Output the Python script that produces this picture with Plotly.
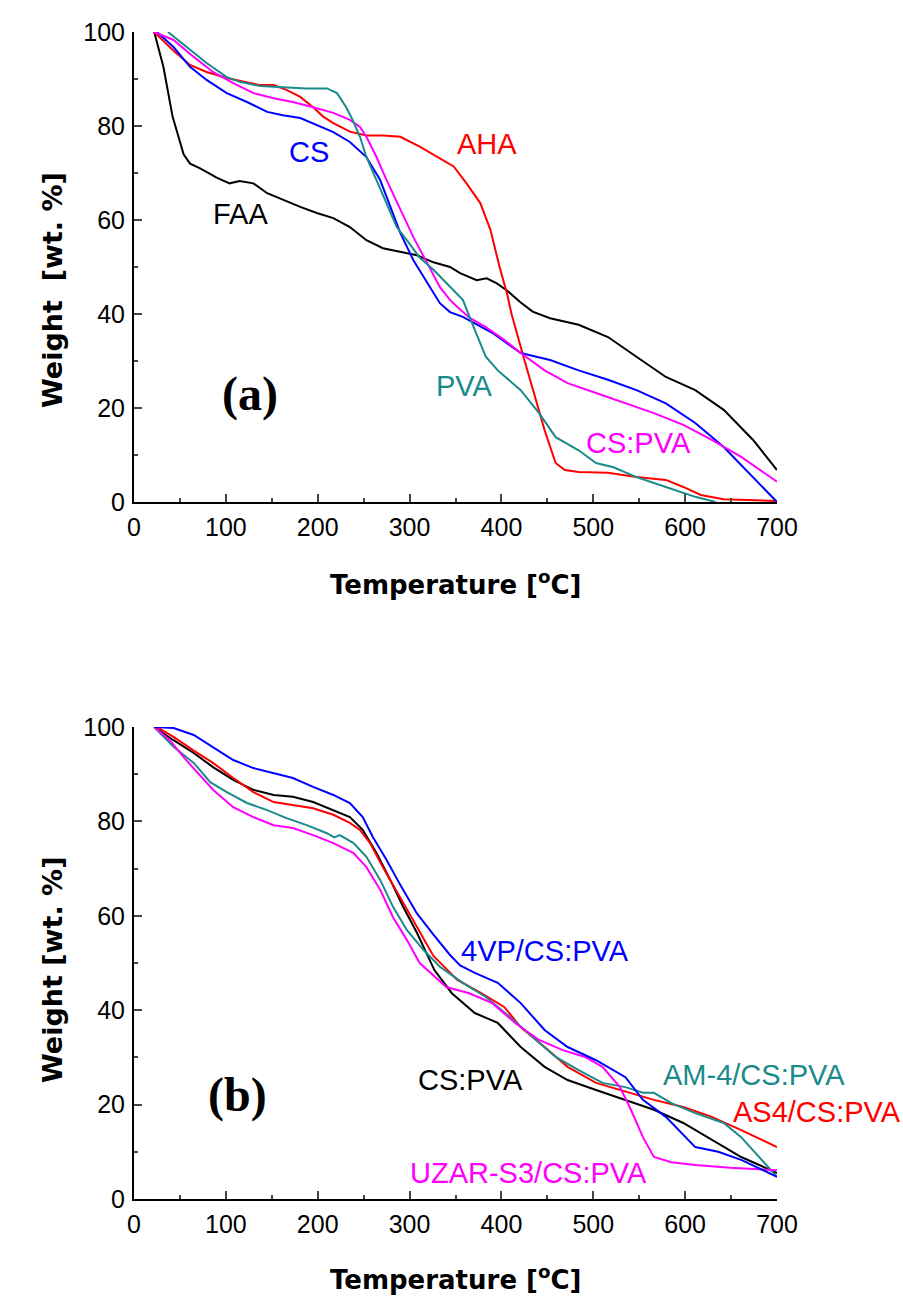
import plotly.graph_objects as go

# ---- panel (a): raw components ----
faa_t = [22, 32, 42, 47, 54, 61, 72, 90, 104, 115, 130, 145, 162, 181, 199, 217, 235, 253, 271, 290,
         308, 326, 344, 355, 373, 384, 395, 406, 420, 434, 453, 484, 516, 547, 579, 611, 642, 674, 700]
faa_w = [100, 92.6, 82, 78.5, 74, 72, 71, 69, 67.8, 68.3, 67.8, 65.7, 64.3, 62.8, 61.5, 60.4, 58.5, 55.7, 54, 53.2,
         52.5, 51, 50, 48.7, 47.2, 47.6, 46.5, 45, 42.6, 40.5, 39.1, 37.7, 35.1, 30.9, 26.6, 23.8, 19.6, 13.2, 6.8]

aha_t = [22, 43, 61, 79, 101, 119, 137, 152, 166, 181, 195, 206, 217, 235, 253, 271, 290, 311, 329, 348,
         362, 377, 388, 398, 406, 411, 425, 447, 459, 469, 484, 516, 547, 579, 598, 617, 642, 674, 700]
aha_w = [100, 96, 93, 91.5, 90.2, 89.4, 88.7, 88.7, 87.7, 86.2, 84, 82, 80.6, 78.8, 78, 78, 77.7, 75.6, 73.5, 71.4,
         67.8, 63.6, 57.9, 50, 44.4, 40, 30.2, 15.3, 8.3, 6.8, 6.4, 6.2, 5.3, 4.7, 3.2, 1.5, 0.6, 0.4, 0.2]

pva_t = [37, 57, 79, 101, 115, 137, 162, 188, 210, 221, 231, 238, 246, 253, 264, 275, 286, 297, 311, 326,
         344, 358, 371, 383, 396, 421, 441, 459, 484, 503, 522, 547, 579, 611, 633]
pva_w = [100, 96.8, 93.4, 90.4, 89.4, 88.5, 88.3, 88, 88, 87, 84, 81.3, 77.7, 73.4, 68.5, 63.6, 58.5, 55.7, 52, 49.4,
         45.7, 43, 36.6, 30.9, 28, 23.8, 18.9, 13.8, 11, 8.3, 7.4, 5.3, 3.2, 1.1, 0]

cs_t = [25, 43, 61, 79, 101, 123, 145, 162, 181, 199, 217, 235, 253, 268, 279, 290, 304, 319, 333, 344,
        358, 390, 421, 453, 484, 516, 547, 579, 611, 642, 674, 700]
cs_w = [100, 96.8, 92.6, 89.8, 87, 85.1, 83, 82.3, 81.7, 80.2, 78.7, 76.6, 73.4, 68.5, 62.8, 57.2, 51.5, 46.6, 42.3, 40.4,
        39.4, 36, 31.7, 30.2, 28, 26, 23.8, 21, 16.8, 11.7, 5.3, 0]

cspva_t = [22, 43, 65, 86, 108, 130, 152, 173, 195, 217, 235, 246, 253, 264, 275, 290, 304, 319, 333, 344,
           352, 366, 383, 403, 421, 447, 472, 503, 535, 566, 598, 629, 661, 700]
cspva_w = [100, 98.3, 94.7, 91.5, 89.1, 87, 85.9, 85.1, 84, 82.8, 81.3, 79.8, 77.7, 73.4, 68.5, 62.1, 56.4, 50.9, 45.7, 43,
           41.5, 39.1, 37.2, 34.5, 31.7, 28, 25.3, 23.2, 21, 18.9, 16.4, 13.2, 9.6, 4.3]

# ---- panel (b): modified membranes ----
vp_t = [22, 43, 65, 86, 108, 130, 152, 173, 195, 217, 235, 249, 260, 275, 290, 308, 326, 344, 355, 371,
        396, 421, 447, 472, 503, 535, 554, 579, 611, 636, 661, 700]
vp_w = [100, 99.8, 98.3, 95.8, 93, 91.3, 90.3, 89.2, 87.3, 85.6, 83.9, 80.9, 76.7, 71.8, 66.5, 60.5, 56, 51.7, 49.5, 47.9,
        45.8, 41.5, 35.8, 32.2, 29.4, 25.8, 21, 17.4, 11, 10, 8.3, 4.7]

blend_t = [22, 43, 65, 86, 108, 130, 152, 173, 195, 217, 235, 249, 264, 279, 293, 308, 322, 327, 346, 371,
           396, 421, 447, 472, 503, 535, 566, 598, 629, 661, 700]
blend_w = [100, 97.2, 94.5, 91.5, 88.8, 86.7, 85.6, 85.2, 84.1, 82.4, 80.9, 78.2, 73.3, 67.6, 61.9, 56.4, 50.6, 48.5, 43.6, 39.4,
           37.3, 32.2, 28, 25.2, 23.1, 21, 18.9, 16.1, 12.5, 8.9, 5.5]

as4_t = [25, 43, 65, 86, 108, 130, 152, 173, 195, 217, 235, 246, 257, 271, 290, 308, 326, 352, 378, 403,
         421, 447, 472, 503, 535, 566, 598, 629, 661, 700]
as4_w = [100, 97.9, 95, 92.4, 89.2, 86.2, 84.1, 83.5, 82.8, 81.4, 79.7, 78.2, 75.4, 70.3, 63.7, 57.6, 51.5, 46.4, 43.6, 40.7,
         36.4, 32.2, 28, 24.6, 22.7, 21, 19.5, 17.4, 14.6, 11]

am4_t = [22, 43, 65, 83, 101, 123, 145, 166, 188, 210, 218, 224, 239, 253, 268, 282, 297, 315, 333, 358,
         383, 409, 434, 459, 484, 510, 535, 554, 566, 585, 611, 642, 661, 680, 700]
am4_w = [100, 95.8, 92.4, 88.3, 86.2, 83.9, 82.4, 80.7, 79.2, 77.5, 76.6, 77.1, 75.4, 72.5, 67.6, 61.9, 57, 52.8, 49.2, 45.8,
         42.8, 38.6, 34.3, 30.1, 27.3, 24.6, 23.7, 22.5, 22.5, 20.3, 18.2, 16.1, 13.1, 8.9, 4.7]

uzar_t = [22, 39, 54, 69, 86, 108, 130, 152, 173, 195, 217, 239, 253, 268, 282, 297, 311, 340, 365, 390,
          415, 441, 466, 491, 510, 529, 541, 554, 566, 585, 611, 649, 700]
uzar_w = [100, 97.2, 93.6, 90.3, 86.7, 83, 80.9, 79.2, 78.6, 77.1, 75.4, 73.3, 70.3, 65.5, 59.7, 54.9, 50, 44.9, 43.6, 41.5,
          37.3, 33.7, 31.6, 30.1, 28, 23.7, 18.9, 13.1, 8.9, 7.8, 7.2, 6.6, 6.1]

BLACK, RED, BLUE, MAG, TEAL = "#000000", "#ff0000", "#0000ff", "#ff00ff", "#1a8a8a"

panel_a = [(faa_t, faa_w, BLACK), (aha_t, aha_w, RED), (cs_t, cs_w, BLUE),
           (cspva_t, cspva_w, MAG), (pva_t, pva_w, TEAL)]
panel_b = [(blend_t, blend_w, BLACK), (as4_t, as4_w, RED), (am4_t, am4_w, TEAL),
           (uzar_t, uzar_w, MAG), (vp_t, vp_w, BLUE)]

fig = go.Figure()
for t, w, c in panel_a:
    fig.add_trace(go.Scatter(x=t, y=w, mode="lines", line=dict(color=c, width=2),
                             xaxis="x", yaxis="y", showlegend=False))
for t, w, c in panel_b:
    fig.add_trace(go.Scatter(x=t, y=w, mode="lines", line=dict(color=c, width=2),
                             xaxis="x2", yaxis="y2", showlegend=False))

tick_font = dict(family="Liberation Sans, Arial", size=25, color="black")
xax = dict(range=[0, 700], tick0=0, dtick=100, ticks="inside", ticklen=8, tickwidth=2,
           showline=True, linecolor="black", linewidth=2, showgrid=False, zeroline=False,
           automargin=False, ticklabelstandoff=2,
           tickfont=tick_font, minor=dict(ticks="inside", ticklen=4, tickwidth=2, dtick=50, tick0=0))
yax = dict(range=[0, 100], tick0=0, dtick=20, ticks="inside", ticklen=8, tickwidth=2,
           showline=True, linecolor="black", linewidth=2, showgrid=False, zeroline=False,
           automargin=False, ticklabelstandoff=2,
           tickfont=tick_font, minor=dict(ticks="inside", ticklen=4, tickwidth=2, dtick=10, tick0=0))

X0, X1 = 134 / 903, 777 / 903
fig.update_layout(
    width=903, height=1297,
    margin=dict(l=0, r=0, t=0, b=0),
    plot_bgcolor="white", paper_bgcolor="white",
    xaxis=dict(xax, domain=[X0, X1], anchor="y"),
    yaxis=dict(yax, domain=[1 - 502 / 1297, 1 - 32 / 1297], anchor="x"),
    xaxis2=dict(xax, domain=[X0, X1], anchor="y2"),
    yaxis2=dict(yax, domain=[1 - 1199 / 1297, 1 - 727 / 1297], anchor="x2"),
)

lab_font = "Liberation Sans, Arial"
LAB = 29
labels_a = [("CS", 190, 74.5, BLUE), ("FAA", 116, 61.3, BLACK), ("AHA", 384, 76.2, RED),
            ("PVA", 360, 24.7, TEAL), ("CS:PVA", 549, 12.6, MAG)]
labels_b = [("4VP/CS:PVA", 447, 52.5, BLUE), ("CS:PVA", 366, 25.2, BLACK),
            ("AM-4/CS:PVA", 675, 26.3, TEAL), ("UZAR-S3/CS:PVA", 430, 5.5, MAG)]
for txt, x, y, c in labels_a:
    fig.add_annotation(x=x, y=y, xref="x", yref="y", text=txt, showarrow=False,
                       font=dict(family=lab_font, size=LAB, color=c))
for txt, x, y, c in labels_b:
    fig.add_annotation(x=x, y=y, xref="x2", yref="y2", text=txt, showarrow=False,
                       font=dict(family=lab_font, size=LAB, color=c))
# this one runs past the right end of the axis, so anchor it to the page
fig.add_annotation(x=817 / 903, y=18.4, xref="paper", yref="y2", text="AS4/CS:PVA", showarrow=False,
                   xanchor="center", yanchor="middle",
                   font=dict(family=lab_font, size=LAB, color=RED))

panel_font = dict(family="Liberation Serif, Times New Roman", size=48, color="black")
fig.add_annotation(x=126, y=23, xref="x", yref="y", text="<b>(a)</b>", showarrow=False, font=panel_font)
fig.add_annotation(x=113, y=22, xref="x2", yref="y2", text="<b>(b)</b>", showarrow=False, font=panel_font)

title_font = dict(family="DejaVu Sans", size=26, color="black")
for ypix in (583, 1278):
    fig.add_annotation(x=455 / 903, y=1 - ypix / 1297, xref="paper", yref="paper",
                       xanchor="center", yanchor="middle",
                       text="<b>Temperature [<sup>o</sup>C]</b>", showarrow=False, font=title_font)
for ypix, txt in ((290, "<b>Weight  [wt. %]</b>"), (970, "<b>Weight [wt. %]</b>")):
    fig.add_annotation(x=52 / 903, y=1 - ypix / 1297, xref="paper", yref="paper",
                       xanchor="center", yanchor="middle",
                       text=txt, textangle=-90, showarrow=False,
                       font=dict(title_font, size=27))

# page body has a default 8px margin; drop it so the figure sits at the window corner
fig.write_html("out.html", config={"displayModeBar": False},
               post_script="document.body.style.margin = '0px';")
